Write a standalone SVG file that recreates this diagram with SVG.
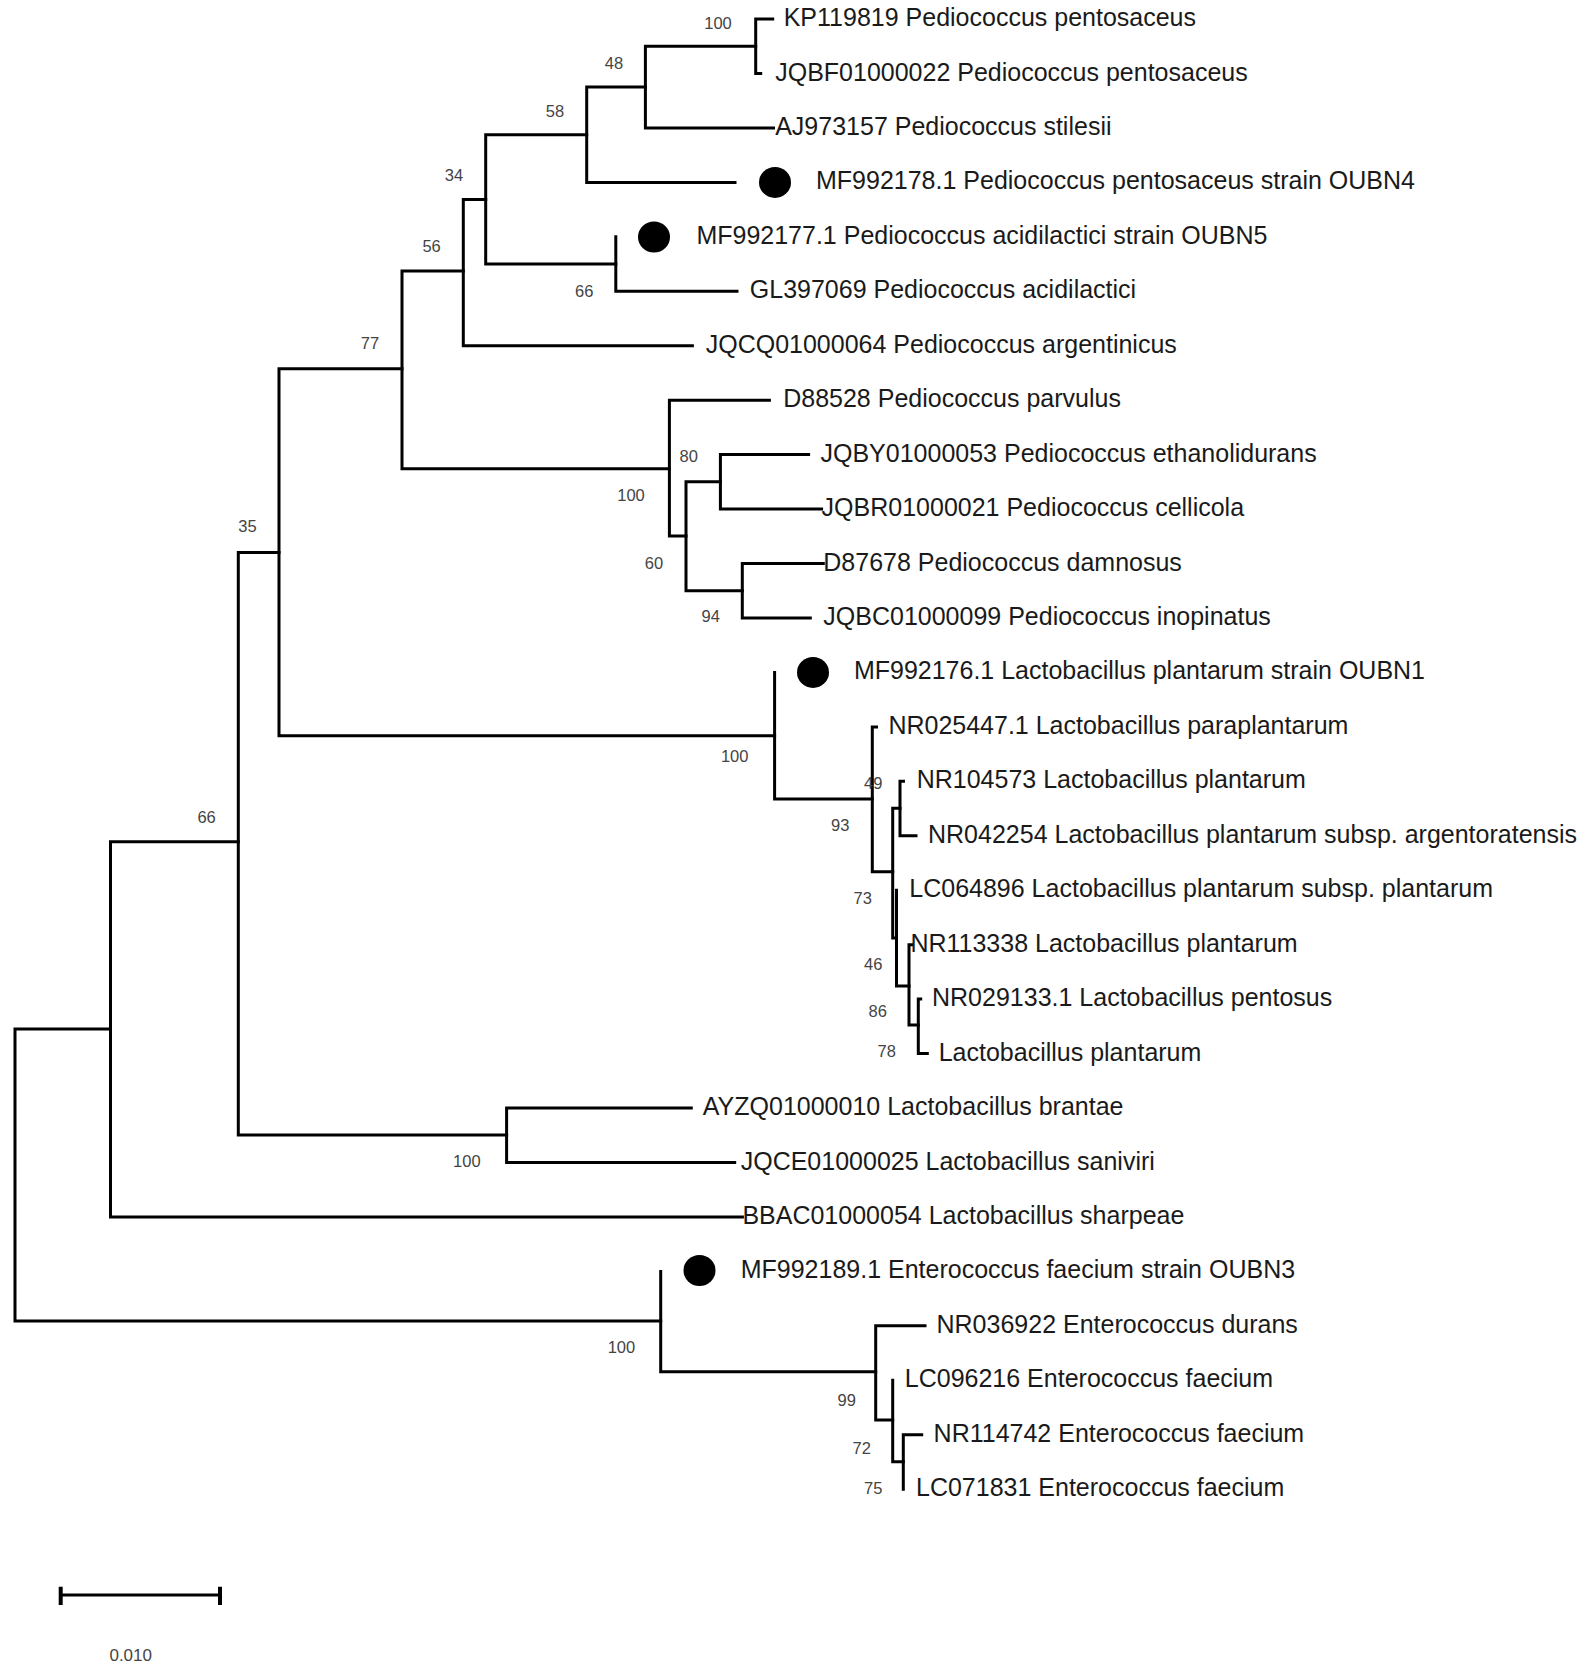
<svg xmlns="http://www.w3.org/2000/svg" width="1587" height="1669" viewBox="0 0 1587 1669">
<style>
.br{fill:none;stroke:#000;stroke-width:3;stroke-linecap:square}
.lb{font-family:"Liberation Sans",Arial,sans-serif;font-size:25px;fill:#1a1a1a}
.bs{font-family:"Liberation Sans",Arial,sans-serif;font-size:16.5px;fill:#444;text-anchor:middle}
.dot{fill:#000}
</style>
<rect width="1587" height="1669" fill="#fff"/>
<g id="connectors">
<path class="br" d="M755.7,19V73.5M755.7,19H772.7M755.7,73.5H760.7"/>
<path class="br" d="M645.4,46.2V127.9M645.4,46.2H755.7M645.4,127.9H773.5"/>
<path class="br" d="M586.7,87V182.4M586.7,87H645.4M586.7,182.4H735"/>
<path class="br" d="M615.8,236.8V291.3M615.8,291.3H737"/>
<path class="br" d="M485.7,134.7V264M485.7,134.7H586.7M485.7,264H615.8"/>
<path class="br" d="M463.3,199.4V345.7M463.3,199.4H485.7M463.3,345.7H692.4"/>
<path class="br" d="M720.4,454.6V509M720.4,454.6H808.6M720.4,509H821.6"/>
<path class="br" d="M742.3,563.5V618M742.3,563.5H823.3M742.3,618H810.3"/>
<path class="br" d="M686,481.8V590.7M686,481.8H720.4M686,590.7H742.3"/>
<path class="br" d="M669.4,400.2V536M669.4,400.2H769.4M669.4,536H686"/>
<path class="br" d="M402,271V468.8M402,271H463.3M402,468.8H669.4"/>
<path class="br" d="M279,368.8V735.7M279,368.8H402M279,735.7H774.6"/>
<path class="br" d="M774.6,672.4V799M774.6,799H872.3"/>
<path class="br" d="M872.3,726.9V871.7M872.3,726.9H876.5M872.3,871.7H892.7"/>
<path class="br" d="M900,781.3V835.8M900,781.3H903.5M900,835.8H916"/>
<path class="br" d="M892.7,808.3V938M892.7,808.3H900M892.7,938H896.5"/>
<path class="br" d="M896.5,890.2V986M896.5,986H909"/>
<path class="br" d="M909,944.7V1025M909,944.7H912M909,1025H918.3"/>
<path class="br" d="M918.3,999.1V1053.6M918.3,999.1H920.7M918.3,1053.6H927.3"/>
<path class="br" d="M506.6,1108V1162.5M506.6,1108H691.3M506.6,1162.5H734.7"/>
<path class="br" d="M238.3,552.5V1135M238.3,552.5H279M238.3,1135H506.6"/>
<path class="br" d="M110.5,841.7V1216.9M110.5,841.7H238.3M110.5,1216.9H742.4"/>
<path class="br" d="M15,1029V1321M15,1029H110.5M15,1321H660.7"/>
<path class="br" d="M660.7,1271.4V1371.7M660.7,1371.7H875.7"/>
<path class="br" d="M875.7,1325.8V1420M875.7,1325.8H925M875.7,1420H892.7"/>
<path class="br" d="M892.7,1380.3V1461.7M892.7,1461.7H903.3"/>
<path class="br" d="M903.3,1434.7V1489.2M903.3,1434.7H921.7"/>
</g>
<g id="bootstrap">
<g id="bs-A"><text class="bs" x="718" y="29">100</text></g>
<g id="bs-B"><text class="bs" x="614" y="69">48</text></g>
<g id="bs-C"><text class="bs" x="555" y="117">58</text></g>
<g id="bs-D"><text class="bs" x="454" y="180.5">34</text></g>
<g id="bs-F"><text class="bs" x="431.6" y="252">56</text></g>
<g id="bs-E"><text class="bs" x="584.2" y="296.5">66</text></g>
<g id="bs-G"><text class="bs" x="370" y="349">77</text></g>
<g id="bs-J"><text class="bs" x="688.8" y="462">80</text></g>
<g id="bs-H"><text class="bs" x="631" y="501">100</text></g>
<g id="bs-I"><text class="bs" x="654" y="568.7">60</text></g>
<g id="bs-K"><text class="bs" x="710.7" y="622.3">94</text></g>
<g id="bs-L"><text class="bs" x="247.4" y="532.3">35</text></g>
<g id="bs-N"><text class="bs" x="734.7" y="761.5">100</text></g>
<g id="bs-M"><text class="bs" x="206.6" y="823">66</text></g>
<g id="bs-P"><text class="bs" x="873.3" y="788.8">49</text></g>
<g id="bs-O"><text class="bs" x="840.3" y="831">93</text></g>
<g id="bs-R"><text class="bs" x="862.7" y="903.8">73</text></g>
<g id="bs-S"><text class="bs" x="873.3" y="969.5">46</text></g>
<g id="bs-U"><text class="bs" x="877.7" y="1017">86</text></g>
<g id="bs-U2"><text class="bs" x="886.7" y="1057">78</text></g>
<g id="bs-V"><text class="bs" x="466.8" y="1167">100</text></g>
<g id="bs-X"><text class="bs" x="621.4" y="1353">100</text></g>
<g id="bs-Y"><text class="bs" x="846.7" y="1405.5">99</text></g>
<g id="bs-Z"><text class="bs" x="861.7" y="1453.8">72</text></g>
<g id="bs-AA"><text class="bs" x="873.3" y="1493.8">75</text></g>
</g>
<g id="leaves">
<g id="leaf-KP119819"><text class="lb" x="783.7" y="26">KP119819 Pediococcus pentosaceus</text></g>
<g id="leaf-JQBF01000022"><text class="lb" x="775.2" y="80.5">JQBF01000022 Pediococcus pentosaceus</text></g>
<g id="leaf-AJ973157"><text class="lb" x="775.2" y="135">AJ973157 Pediococcus stilesii</text></g>
<g id="leaf-MF992178"><ellipse class="dot" cx="775" cy="182.4" rx="16" ry="15.5"/><text class="lb" x="816" y="189.4">MF992178.1 Pediococcus pentosaceus strain OUBN4</text></g>
<g id="leaf-MF992177"><ellipse class="dot" cx="654" cy="237" rx="16" ry="15.5"/><text class="lb" x="696.4" y="243.8">MF992177.1 Pediococcus acidilactici strain OUBN5</text></g>
<g id="leaf-GL397069"><text class="lb" x="749.8" y="298.3">GL397069 Pediococcus acidilactici</text></g>
<g id="leaf-JQCQ01000064"><text class="lb" x="705.7" y="352.7">JQCQ01000064 Pediococcus argentinicus</text></g>
<g id="leaf-D88528"><text class="lb" x="783.2" y="407.2">D88528 Pediococcus parvulus</text></g>
<g id="leaf-JQBY01000053"><text class="lb" x="820.5" y="461.6">JQBY01000053 Pediococcus ethanolidurans</text></g>
<g id="leaf-JQBR01000021"><text class="lb" x="821.6" y="516">JQBR01000021 Pediococcus cellicola</text></g>
<g id="leaf-D87678"><text class="lb" x="823.3" y="570.5">D87678 Pediococcus damnosus</text></g>
<g id="leaf-JQBC01000099"><text class="lb" x="823.3" y="625">JQBC01000099 Pediococcus inopinatus</text></g>
<g id="leaf-MF992176"><ellipse class="dot" cx="813" cy="672.4" rx="16" ry="15.5"/><text class="lb" x="853.9" y="679.4">MF992176.1 Lactobacillus plantarum strain OUBN1</text></g>
<g id="leaf-NR025447"><text class="lb" x="888.4" y="733.9">NR025447.1 Lactobacillus paraplantarum</text></g>
<g id="leaf-NR104573"><text class="lb" x="916.7" y="788.3">NR104573 Lactobacillus plantarum</text></g>
<g id="leaf-NR042254"><text class="lb" x="928" y="842.8">NR042254 Lactobacillus plantarum subsp. argentoratensis</text></g>
<g id="leaf-LC064896"><text class="lb" x="909.3" y="897.2">LC064896 Lactobacillus plantarum subsp. plantarum</text></g>
<g id="leaf-NR113338"><text class="lb" x="910.4" y="951.7">NR113338 Lactobacillus plantarum</text></g>
<g id="leaf-NR029133"><text class="lb" x="932" y="1006.1">NR029133.1 Lactobacillus pentosus</text></g>
<g id="leaf-Lplantarum"><text class="lb" x="938.7" y="1060.6">Lactobacillus plantarum</text></g>
<g id="leaf-AYZQ01000010"><text class="lb" x="702.8" y="1115">AYZQ01000010 Lactobacillus brantae</text></g>
<g id="leaf-JQCE01000025"><text class="lb" x="740.7" y="1169.5">JQCE01000025 Lactobacillus saniviri</text></g>
<g id="leaf-BBAC01000054"><text class="lb" x="742.4" y="1223.9">BBAC01000054 Lactobacillus sharpeae</text></g>
<g id="leaf-MF992189"><ellipse class="dot" cx="699.5" cy="1270.5" rx="16" ry="15.5"/><text class="lb" x="740.7" y="1278.4">MF992189.1 Enterococcus faecium strain OUBN3</text></g>
<g id="leaf-NR036922"><text class="lb" x="936.5" y="1332.8">NR036922 Enterococcus durans</text></g>
<g id="leaf-LC096216"><text class="lb" x="904.8" y="1387.3">LC096216 Enterococcus faecium</text></g>
<g id="leaf-NR114742"><text class="lb" x="933.6" y="1441.7">NR114742 Enterococcus faecium</text></g>
<g id="leaf-LC071831"><text class="lb" x="916" y="1496.2">LC071831 Enterococcus faecium</text></g>
</g>
<g id="scale-bar">
<path class="br" d="M60.7,1595H220"/>
<path d="M60.7,1586.7V1605M220,1586.7V1605" stroke="#000" stroke-width="4" fill="none"/>
<text class="bs" x="130.7" y="1661" style="font-size:17px">0.010</text>
</g>
</svg>
